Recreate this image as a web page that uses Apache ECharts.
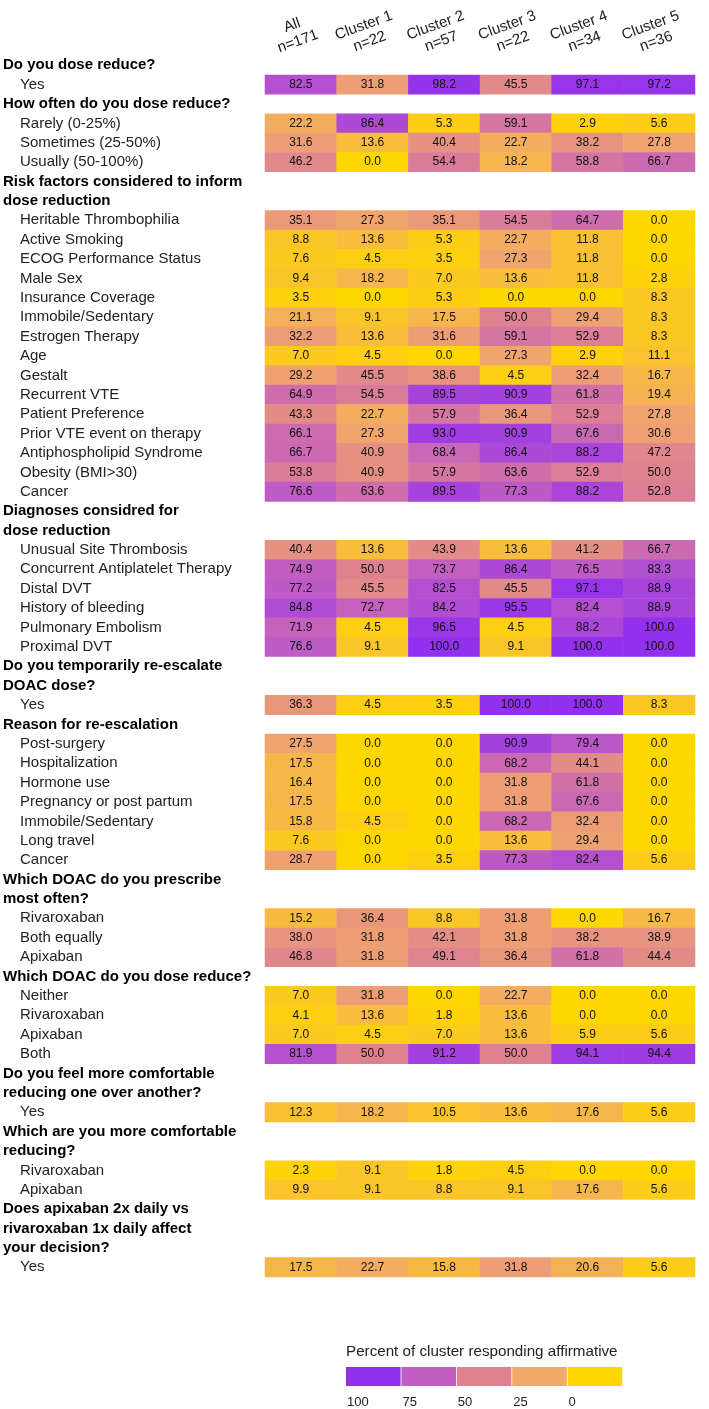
<!DOCTYPE html>
<html>
<head>
<meta charset="utf-8">
<script src="https://cdn.jsdelivr.net/npm/echarts@6/dist/echarts.min.js"></script>
<style>html,body{margin:0;padding:0;background:#fff;}#c{width:709px;height:1409px;}</style>
</head>
<body>
<div id="c"></div>
<script>
const colLabels = ['All\nn=171', 'Cluster 1\nn=22', 'Cluster 2\nn=57', 'Cluster 3\nn=22', 'Cluster 4\nn=34', 'Cluster 5\nn=36'];

const headerLines = [
  'Do you dose reduce?', 'How often do you dose reduce?', 'Risk factors considered to inform',
  'dose reduction', 'Diagnoses considred for', 'Do you temporarily re-escalate', 'DOAC dose?',
  'Reason for re-escalation', 'Which DOAC do you prescribe', 'most often?',
  'Which DOAC do you dose reduce?', 'Do you feel more comfortable', 'reducing one over another?',
  'Which are you more comfortable', 'reducing?', 'Does apixaban 2x daily vs',
  'rivaroxaban 1x daily affect', 'your decision?'
];

const rowLabels = [
  'Do you dose reduce?', 'Yes',
  'How often do you dose reduce?', 'Rarely (0-25%)', 'Sometimes (25-50%)', 'Usually (50-100%)',
  'Risk factors considered to inform', 'dose reduction',
  'Heritable Thrombophilia', 'Active Smoking', 'ECOG Performance Status', 'Male Sex', 'Insurance Coverage',
  'Immobile/Sedentary', 'Estrogen Therapy', 'Age', 'Gestalt', 'Recurrent VTE', 'Patient Preference',
  'Prior VTE event on therapy', 'Antiphospholipid Syndrome', 'Obesity (BMI>30)', 'Cancer',
  'Diagnoses considred for', 'dose reduction',
  'Unusual Site Thrombosis', 'Concurrent Antiplatelet Therapy', 'Distal DVT', 'History of bleeding',
  'Pulmonary Embolism', 'Proximal DVT',
  'Do you temporarily re-escalate', 'DOAC dose?', 'Yes',
  'Reason for re-escalation', 'Post-surgery', 'Hospitalization', 'Hormone use', 'Pregnancy or post partum',
  'Immobile/Sedentary', 'Long travel', 'Cancer',
  'Which DOAC do you prescribe', 'most often?', 'Rivaroxaban', 'Both equally', 'Apixaban',
  'Which DOAC do you dose reduce?', 'Neither', 'Rivaroxaban', 'Apixaban', 'Both',
  'Do you feel more comfortable', 'reducing one over another?', 'Yes',
  'Which are you more comfortable', 'reducing?', 'Rivaroxaban', 'Apixaban',
  'Does apixaban 2x daily vs', 'rivaroxaban 1x daily affect', 'your decision?', 'Yes'
];

// values per column, in order of the item (non-header) rows
const valAll = [82.5, 22.2, 31.6, 46.2, 35.1, 8.8, 7.6, 9.4, 3.5, 21.1, 32.2, 7.0, 29.2, 64.9, 43.3, 66.1, 66.7, 53.8, 76.6,
  40.4, 74.9, 77.2, 84.8, 71.9, 76.6, 36.3, 27.5, 17.5, 16.4, 17.5, 15.8, 7.6, 28.7, 15.2, 38.0, 46.8,
  7.0, 4.1, 7.0, 81.9, 12.3, 2.3, 9.9, 17.5];
const valC1 = [31.8, 86.4, 13.6, 0.0, 27.3, 13.6, 4.5, 18.2, 0.0, 9.1, 13.6, 4.5, 45.5, 54.5, 22.7, 27.3, 40.9, 40.9, 63.6,
  13.6, 50.0, 45.5, 72.7, 4.5, 9.1, 4.5, 0.0, 0.0, 0.0, 0.0, 4.5, 0.0, 0.0, 36.4, 31.8, 31.8,
  31.8, 13.6, 4.5, 50.0, 18.2, 9.1, 9.1, 22.7];
const valC2 = [98.2, 5.3, 40.4, 54.4, 35.1, 5.3, 3.5, 7.0, 5.3, 17.5, 31.6, 0.0, 38.6, 89.5, 57.9, 93.0, 68.4, 57.9, 89.5,
  43.9, 73.7, 82.5, 84.2, 96.5, 100.0, 3.5, 0.0, 0.0, 0.0, 0.0, 0.0, 0.0, 3.5, 8.8, 42.1, 49.1,
  0.0, 1.8, 7.0, 91.2, 10.5, 1.8, 8.8, 15.8];
const valC3 = [45.5, 59.1, 22.7, 18.2, 54.5, 22.7, 27.3, 13.6, 0.0, 50.0, 59.1, 27.3, 4.5, 90.9, 36.4, 90.9, 86.4, 63.6, 77.3,
  13.6, 86.4, 45.5, 95.5, 4.5, 9.1, 100.0, 90.9, 68.2, 31.8, 31.8, 68.2, 13.6, 77.3, 31.8, 31.8, 36.4,
  22.7, 13.6, 13.6, 50.0, 13.6, 4.5, 9.1, 31.8];
const valC4 = [97.1, 2.9, 38.2, 58.8, 64.7, 11.8, 11.8, 11.8, 0.0, 29.4, 52.9, 2.9, 32.4, 61.8, 52.9, 67.6, 88.2, 52.9, 88.2,
  41.2, 76.5, 97.1, 82.4, 88.2, 100.0, 100.0, 79.4, 44.1, 61.8, 67.6, 32.4, 29.4, 82.4, 0.0, 38.2, 61.8,
  0.0, 0.0, 5.9, 94.1, 17.6, 0.0, 17.6, 20.6];
const valC5 = [97.2, 5.6, 27.8, 66.7, 0.0, 0.0, 0.0, 2.8, 8.3, 8.3, 8.3, 11.1, 16.7, 19.4, 27.8, 30.6, 47.2, 50.0, 52.8,
  66.7, 83.3, 88.9, 88.9, 100.0, 100.0, 8.3, 0.0, 0.0, 0.0, 0.0, 0.0, 0.0, 5.6, 16.7, 38.9, 44.4,
  0.0, 0.0, 5.6, 94.4, 5.6, 0.0, 5.6, 5.6];

const legendTicks = ['100', '75', '50', '25', '0'];
const legendTitle = 'Percent of cluster responding affirmative';

const columns = [valAll, valC1, valC2, valC3, valC4, valC5];
const stopColors = ['#FFD700', '#F2A86A', '#DE8290', '#C25EC2', '#9230EE'];

const data = [];
let item = 0;
rowLabels.forEach((lab, r) => {
  if (headerLines.indexOf(lab) >= 0) return;
  columns.forEach((col, c) => data.push([c, r, col[item]]));
  item++;
});

const FONT = '"Liberation Sans", Arial, sans-serif';
const chart = echarts.init(document.getElementById('c'));

const graphics = [{
  type: 'text', left: 346, top: 1344,
  style: { text: legendTitle, font: '15.2px ' + FONT, fill: '#222' }
}];
legendTicks.forEach((t, i) => {
  graphics.push({
    type: 'rect', shape: { x: 346 + 55.4 * i, y: 1367, width: 54.6, height: 19 },
    style: { fill: stopColors[4 - i] }
  });
  graphics.push({
    type: 'text', x: 347 + 55.4 * i, y: 1396,
    style: { text: t, font: '13px ' + FONT, fill: '#222' }
  });
});

chart.setOption({
  animation: false,
  textStyle: { fontFamily: FONT },
  grid: { left: 262, right: 14, top: 55.5, bottom: 132 },
  xAxis: {
    type: 'category', position: 'top', data: colLabels,
    axisLine: { show: false }, axisTick: { show: false }, splitLine: { show: false },
    axisLabel: {
      interval: 0, rotate: -20, align: 'center', verticalAlign: 'bottom', margin: 6,
      fontSize: 15, lineHeight: 17, color: '#222', fontFamily: FONT
    }
  },
  yAxis: {
    type: 'category', inverse: true, data: rowLabels,
    axisLine: { show: false }, axisTick: { show: false }, splitLine: { show: false },
    axisLabel: {
      interval: 0, align: 'left', margin: 262, fontFamily: FONT,
      formatter: (v) => headerLines.indexOf(v) >= 0 ? '{h|' + v + '}' : '{i|' + v + '}',
      rich: {
        h: { fontWeight: 'bold', fontSize: 15, color: '#000', fontFamily: FONT },
        i: { fontSize: 15, color: '#222', padding: [0, 0, 0, 17], fontFamily: FONT }
      }
    }
  },
  visualMap: {
    show: false, type: 'continuous', min: 0, max: 100, dimension: 2,
    inRange: { color: stopColors }
  },
  series: [{
    type: 'heatmap', data: data,
    label: {
      show: true, fontSize: 12, color: '#111', fontFamily: FONT,
      formatter: (p) => p.value[2].toFixed(1)
    },
    itemStyle: { borderWidth: 0 },
    emphasis: { disabled: true }
  }],
  graphic: graphics
});
</script>
</body>
</html>
